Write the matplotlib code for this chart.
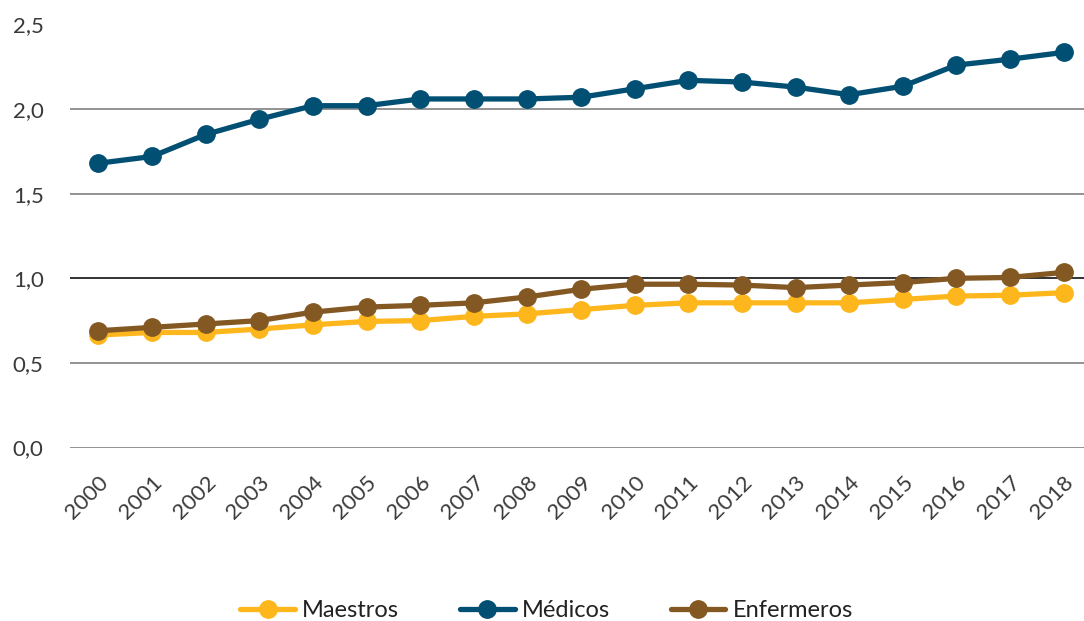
import matplotlib.pyplot as plt
from matplotlib import ticker

plt.rcParams['font.family'] = ['Lato', 'DejaVu Sans']

years = list(range(2000, 2019))
year_labels = [str(y) for y in years]

# values
medicos = [1.68, 1.72, 1.85, 1.94, 2.02, 2.02, 2.06, 2.06, 2.06, 2.07, 2.12,
           2.17, 2.16, 2.13, 2.085, 2.135, 2.26, 2.295, 2.335]
enfermeros = [0.69, 0.71, 0.73, 0.75, 0.80, 0.83, 0.84, 0.855, 0.89, 0.935, 0.965,
              0.965, 0.96, 0.945, 0.96, 0.975, 1.0, 1.005, 1.035]
maestros = [0.665, 0.68, 0.68, 0.70, 0.725, 0.745, 0.75, 0.775, 0.79, 0.815, 0.84,
            0.855, 0.855, 0.855, 0.855, 0.875, 0.895, 0.90, 0.915]

c_maestros = '#FDB71C'
c_medicos = '#014F73'
c_enfermeros = '#835823'

fig = plt.figure(figsize=(10.84, 6.21), dpi=100)
ax = fig.add_axes([70 / 1084, 1 - 447.5 / 621, 1 - 70 / 1084, (447.5 - 24.5) / 621])

style = dict(linewidth=3.8, marker='o', markersize=12.5, solid_capstyle='round')
ax.plot(years, maestros, color=c_maestros, label='Maestros', **style)
ax.plot(years, medicos, color=c_medicos, label='Médicos', **style)
ax.plot(years, enfermeros, color=c_enfermeros, label='Enfermeros', **style)

ax.set_ylim(0, 2.5)
ax.set_xlim(1999.47, 2018.38)
ax.set_yticks([0, 0.5, 1.0, 1.5, 2.0, 2.5])
ax.yaxis.set_major_formatter(ticker.FuncFormatter(lambda v, p: ('%.1f' % v).replace('.', ',')))
ax.set_xticks(years)
ax.set_xticklabels(year_labels, rotation=45, ha='right', rotation_mode='anchor')

for v in [0, 0.5, 1.0, 1.5, 2.0, 2.5]:
    col = '#222222' if v == 1.0 else '#8a8a8a'
    ax.axhline(v, color=col, linewidth=1.3, zorder=0)

for s in ax.spines.values():
    s.set_visible(False)
ax.tick_params(length=0, labelsize=16, colors='#3a3a3a')
ax.tick_params(axis='y', pad=19)
ax.tick_params(axis='x', pad=18)

ax.legend(loc='upper center', bbox_to_anchor=(0.47, -0.31), ncol=3, frameon=False,
          fontsize=17, handlelength=2.3, columnspacing=2.6, handletextpad=0.3,
          labelcolor='#222222')

fig.savefig('out.png', dpi=100)
